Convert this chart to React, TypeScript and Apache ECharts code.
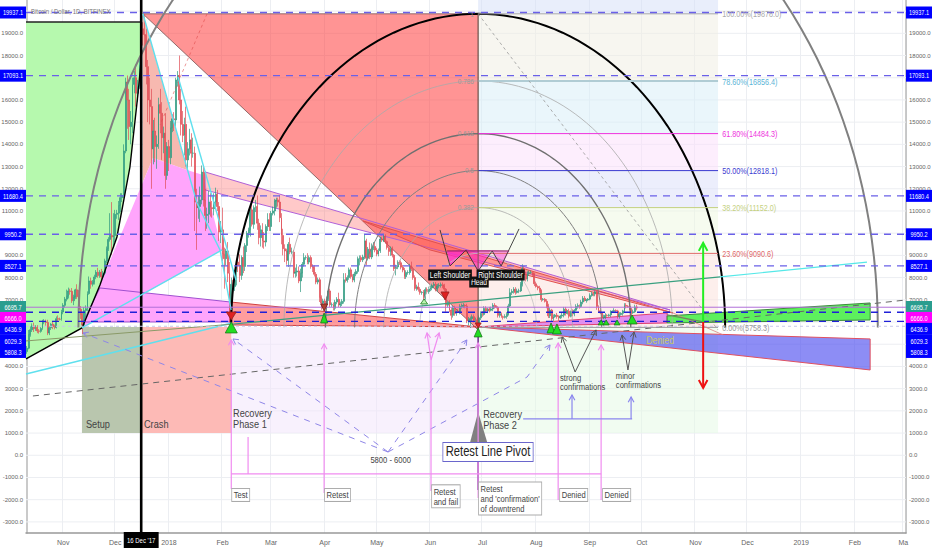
import React, { useEffect, useRef } from "react";
import * as echarts from "echarts";

const FONT = "'Liberation Sans',sans-serif";
const SQUEEZE = 0.8;
const FIRST_DAY = Date.UTC(2017, 9, 11);
const TOTAL_DAYS = 508;
const categories: string[] = [];
for (let i = 0; i < TOTAL_DAYS; i++) categories.push(new Date(FIRST_DAY + i * 86400000).toISOString().slice(0, 10));

const tickLabels: Record<string, string> = {
  "2017-11-01": "Nov", "2017-12-01": "Dec", "2018-01-01": "2018", "2018-02-01": "Feb", "2018-03-01": "Mar",
  "2018-04-01": "Apr", "2018-05-01": "May", "2018-06-01": "Jun", "2018-07-01": "Jul", "2018-08-01": "Aug",
  "2018-09-01": "Sep", "2018-10-01": "Oct", "2018-11-01": "Nov", "2018-12-01": "Dec", "2019-01-01": "2019",
  "2019-02-01": "Feb", "2019-03-01": "Ma",
};
const gridPrices = [-3000, -2000, -1000, 0, 1000, 2000, 3000, 4000, 5000, 6000, 7000, 8000, 9000, 10000, 11000, 12000, 13000, 14000, 15000, 16000, 17000, 18000, 19000, 20000];

// daily closes, 11 Oct 2017 onward
const closes = [
  4820, 5440, 5650, 5820, 5700, 5760, 5600, 5580, 5710, 6000, 6010, 5980, 5510, 5740, 5900, 5780, 5760, 6150, 6130, 6120, 6450,
  6750, 7030, 7160, 7400, 7380, 6960, 7130, 7450, 7140, 6570, 6340, 5860, 6520, 6600, 7280, 7850, 7700, 7790, 8030, 8240, 8090, 8240, 8030, 8200, 8750, 9300, 9720, 9900, 9830, 9900,
  10850, 10900, 11250, 11600, 11700, 13700, 16800, 16000, 14800, 15000, 16700, 17000, 16300, 16600, 17600, 19200, 18950, 18900, 17500, 16000, 15700, 13800, 14600, 13900, 14000, 15800, 15400, 14300, 14500, 12600, 13900,
  13400, 14750, 15150, 15100, 16900, 17100, 16000, 14900, 14400, 14900, 13300, 13800, 14200, 13600, 13600, 11400, 11150, 11200, 11500, 12750, 11500, 10800, 10850, 11400, 11150, 11100, 11400, 11750, 11200, 10050, 10150,
  9050, 8850, 9200, 8200, 6900, 7700, 7600, 8250, 8700, 8550, 8100, 8900, 8500, 9450, 10000, 10150, 11050, 10400, 11150, 11200, 10450, 9800, 10150, 9650, 9600, 10300, 10600, 10300,
  10900, 11000, 11450, 11500, 11400, 10700, 9900, 9300, 9200, 8780, 9500, 9150, 9150, 8200, 8250, 8300, 7850, 8200, 8600, 8900, 8900, 8700, 8900, 8500, 8450, 8150, 7800, 7900, 7100, 6850, 6950,
  6800, 7050, 7400, 6780, 6780, 6620, 6900, 7020, 6770, 6820, 6930, 7900, 7880, 8000, 8350, 8050, 7890, 8160, 8280, 8850, 8900, 8800, 8930, 9650, 8870, 9280, 8930, 9340, 9400, 9240,
  9060, 9210, 9740, 9700, 9850, 9620, 9360, 9180, 9300, 9010, 8400, 8480, 8680, 8670, 8470, 8340, 8040, 8230, 8230, 8520, 8390, 8000, 7510, 7580, 7470, 7330, 7340, 7100, 7460, 7370, 7490,
  7530, 7640, 7700, 7480, 7620, 7650, 7680, 7620, 7480, 6760, 6880, 6540, 6300, 6630, 6380, 6490, 6450, 6700, 6730, 6750, 6720, 6050, 6130, 6150, 6240, 6080, 6100, 5850, 6190, 6380,
  6340, 6610, 6500, 6580, 6530, 6590, 6750, 6700, 6660, 6300, 6380, 6240, 6210, 6250, 6340, 6720, 7320, 7380, 7470, 7330, 7400, 7400, 7700, 8400, 8170, 7930, 8180, 8220, 8220, 8170, 7720,
  7600, 7530, 7420, 7010, 7030, 6930, 6720, 6280, 6540, 6150, 6240, 6310, 6250, 6190, 6270, 6310, 6580, 6390, 6490, 6260, 6470, 6360, 6530, 6700, 6740, 6700, 6900, 7070, 6970, 6990, 7030,
  7190, 7270, 7260, 7360, 6700, 6510, 6410, 6180, 6230, 6300, 6290, 6320, 6480, 6480, 6520, 6500, 6250, 6340, 6390, 6500, 6750, 6710, 6700, 6580, 6420, 6460, 6680, 6630,
];
const upperWicks = [
  100, 200, 150, 120, 150, 100, 100, 80, 60, 100, 120, 100, 120, 60, 50, 120, 100, 100, 150, 70, 100,
  100, 100, 300, 150, 100, 150, 100, 50, 250, 300, 150, 100, 150, 150, 100, 200, 150, 100, 100, 100, 200, 100, 150, 100, 100, 100, 100, 1000, 1500, 1000,
  200, 150, 200, 200, 100, 300, 200, 300, 500, 500, 300, 300, 600, 300, 300, 200, 300, 900, 300, 300, 1000, 800, 500, 600, 400, 300, 700, 500, 300, 900, 200,
  300, 300, 200, 300, 100, 200, 900, 500, 600, 300, 800, 300, 500, 300, 700, 300, 600, 500, 600, 300, 300, 500, 300, 500, 400, 300, 400, 300, 200, 200, 400,
  1000, 300, 100, 400, 500, 300, 200, 100, 100, 200, 500, 100, 500, 100, 100, 100, 100, 300, 100, 300, 500, 200, 200, 300, 400, 100, 300, 300,
  100, 200, 100, 100, 100, 300, 200, 300, 200, 100, 100, 300, 200, 100, 200, 300, 200, 200, 100, 200, 100, 200, 100, 100, 100, 100, 100, 100, 100, 100, 100,
  100, 100, 100, 100, 100, 100, 100, 100, 300, 100, 100, 300, 300, 100, 100, 100, 100, 100, 100, 100, 100, 100, 100, 300, 100, 100, 300, 200, 200, 200,
  100, 100, 100, 100, 100, 100, 50, 100, 100, 100, 50, 100, 100, 100, 100, 100, 100, 100, 100, 100, 200, 100, 100, 100, 200, 100, 50, 100, 100, 100, 100,
  100, 100, 100, 100, 100, 100, 100, 100, 100, 50, 50, 100, 100, 100, 100, 50, 100, 100, 100, 100, 50, 100, 100, 100, 100, 100, 100, 100, 100, 100,
  100, 100, 100, 50, 100, 100, 100, 100, 50, 50, 100, 50, 50, 100, 100, 100, 200, 100, 100, 100, 100, 100, 100, 200, 100, 100, 100, 100, 100, 50, 50,
  100, 50, 100, 50, 50, 50, 100, 100, 100, 50, 100, 50, 100, 50, 50, 100, 100, 100, 50, 100, 50, 100, 50, 100, 100, 50, 100, 100, 100, 50, 50,
  100, 100, 50, 50, 50, 50, 50, 50, 100, 100, 50, 50, 50, 50, 100, 50, 50, 100, 50, 50, 100, 100, 50, 100, 50, 100, 100, 100,
];
const lowerWicks = [
  100, 50, 100, 100, 150, 100, 100, 100, 60, 60, 100, 150, 100, 100, 100, 100, 90, 50, 100, 50, 60,
  100, 100, 100, 100, 150, 100, 200, 100, 100, 200, 200, 400, 100, 300, 100, 50, 200, 100, 100, 100, 100, 100, 150, 100, 100, 100, 100, 100, 800, 500,
  300, 200, 300, 300, 200, 100, 100, 1300, 600, 800, 500, 400, 600, 400, 100, 200, 500, 500, 800, 1000, 800, 1800, 700, 700, 1000, 200, 900, 1000, 700, 600, 200,
  600, 300, 200, 500, 300, 300, 200, 500, 300, 900, 300, 500, 300, 600, 200, 1300, 1900, 500, 700, 200, 300, 700, 600, 400, 400, 400, 300, 200, 200, 400, 500,
  300, 1350, 300, 400, 900, 700, 300, 200, 600, 300, 300, 200, 300, 200, 300, 200, 300, 100, 200, 200, 300, 300, 400, 300, 300, 200, 200, 200,
  200, 100, 200, 300, 200, 200, 400, 300, 500, 200, 300, 100, 100, 200, 200, 200, 100, 500, 200, 100, 100, 100, 100, 100, 200, 100, 100, 100, 200, 300, 100,
  300, 100, 100, 100, 100, 100, 100, 100, 100, 100, 100, 100, 100, 100, 100, 100, 100, 100, 100, 100, 300, 100, 100, 100, 300, 100, 100, 100, 100, 100,
  100, 100, 100, 100, 100, 100, 100, 200, 200, 100, 100, 300, 100, 100, 100, 100, 100, 100, 100, 100, 100, 100, 100, 100, 100, 100, 100, 100, 100, 100, 100,
  100, 100, 100, 100, 100, 100, 100, 100, 100, 300, 100, 100, 200, 100, 100, 100, 50, 100, 100, 100, 100, 100, 200, 400, 100, 100, 100, 100, 100, 100,
  100, 50, 100, 100, 100, 50, 100, 100, 50, 100, 100, 50, 100, 50, 100, 50, 50, 100, 100, 100, 50, 100, 50, 100, 100, 100, 100, 100, 50, 100, 100,
  50, 100, 100, 100, 50, 50, 100, 100, 100, 100, 100, 50, 100, 150, 50, 100, 100, 100, 50, 100, 50, 100, 100, 50, 100, 100, 50, 100, 50, 100, 50,
  50, 50, 100, 100, 150, 100, 50, 100, 50, 100, 50, 50, 100, 50, 50, 50, 100, 100, 50, 100, 50, 100, 50, 50, 100, 50, 50, 100,
];
const candles = closes.map((c, i) => {
  const o = i === 0 ? c - 150 : closes[i - 1];
  return [o, c, Math.min(o, c) - lowerWicks[i], Math.max(o, c) + upperWicks[i]];
});

// horizontal levels and the tags on the price scales
const dashedLevels = [19937.1, 17093.1, 11680.4, 9950.2, 8527.1];
const strongLevels = [6436.9, 6029.3];
const priceTags = [
  ["19937.1", 19937], ["17093.1", 17093], ["11680.4", 11680], ["9950.2", 9950], ["8527.1", 8527],
];
const stackedTags = [["6695.7", 6677, "#2a9d8f"], ["6666.0", 6185, "#ff00ff"], ["6436.9", 5690, "#0000ff"], ["6029.3", 5150, "#0000ff"], ["5808.3", 4652, "#0000ff"]];

// Fibonacci retracement
const fibLevels = [
  [19878, "100.00%(19878.0)", "#aaaaaa", "rgba(240,238,226,0.5)", 1],
  [16856.4, "78.60%(16856.4)", "#5ab4d6", "rgba(213,237,247,0.5)", 2],
  [14484.3, "61.80%(14484.3)", "#ee33dd", "rgba(251,221,251,0.5)", 1],
  [12818.1, "50.00%(12818.1)", "#3a3ad0", "rgba(217,221,249,0.5)", 1],
  [11152, "38.20%(11152.0)", "#c4d080", "rgba(237,247,223,0.5)", 1],
  [9090.6, "23.60%(9090.6)", "#e06a6a", "rgba(251,223,217,0.5)", 1],
  [5758.3, "0.00%(5758.3)", "#999999", "rgba(227,249,227,0.5)", 1],
] as const;
const fibArcs = [
  [0.236, "#c0c0c0", 0.8], [0.382, "#aaaaaa", 0.8], [0.5, "#808080", 1], [0.618, "#707070", 1.4], [0.786, "#aaaaaa", 0.8], [1, "#000000", 2], [1.618, "#808080", 2],
] as const;
const fibArcNames = [["1", 19878], ["0.786", 16856], ["0.618", 14484], ["0.5", 12818], ["0.382", 11152]] as const;
const arcCentre = [260.5, 5758];
const arcRadius = [142.6, 14120];

type Pt = [number, number];
type Shape = any;
const poly = (pts: Pt[], fill: string, stroke?: string, w = 1, opacity = 1): Shape => ({ k: "poly", pts, fill, stroke, w, opacity });
const line = (pts: Pt[], stroke: string, w = 1, dash?: number[]): Shape => ({ k: "line", pts, stroke, w, dash });
const arrow = (pts: Pt[], stroke: string, w = 1, dash?: number[], head = 6): Shape => ({ k: "arrow", pts, stroke, w, dash, head });
const tri = (d: number, p: number, tw: number, th: number, dir: number, fill: string, stroke = "#1a7a1a"): Shape => ({ k: "tri", d, p, tw, th, dir, fill, stroke });
const text = (d: number, p: number, t: string, o: any = {}): Shape => ({ k: "text", d, p, t, ...o });
const boxed = (d: number, p: number, t: string, fs = 9.5): Shape =>
  text(d, p, t, { size: fs, color: "#444", bg: "#ffffff", border: "#aaaaaa", pad: [1, 2], lh: fs + 0.5 });

const L0 = -0.5, R0 = 507.5, TOP = 20500, BOT = -3500;

const greenEdge: Pt[] = [[66, 17800], [64.2, 16310], [59.5, 12980], [52, 9830], [42.2, 7670], [31.8, 5733]];

const fillShapes: Shape[] = [
  ...gridPrices.map((p) => line([[L0, p], [R0, p]], "#eceef2", 1)),
  poly([[260.5, TOP], [399, TOP], [399, 19878], [260.5, 19878]], "rgba(211,221,247,0.5)"),
  ...fibLevels.slice(0, 6).map((f, i) => poly([[260.5, fibLevels[i][0]], [399, fibLevels[i][0]], [399, fibLevels[i + 1][0]], [260.5, fibLevels[i + 1][0]]], f[3])),
  poly([[260.5, 5758], [399, 5758], [399, 1000], [260.5, 1000]], "rgba(227,249,227,0.5)"),
  poly([[118, 5778], [260.5, 5778], [260.5, 1000], [118, 1000]], "rgba(241,227,251,0.5)"),
  poly([[31.8, 5778], [66, 5778], [66, 1000], [31.8, 1000]], "#b9c6ae"),
  poly([[66, 5778], [118, 5778], [118, 1000], [66, 1000]], "#fdbab6"),
  poly([[L0, 19511], [66, 19511], ...greenEdge, [L0, 4337]], "#b6f9ae"),
  poly([[67, 19878], [92.5, 12847], [72.8, 13387], [67, 12307]], "#f7b9b0"),
  poly([[72.8, 13387], [92.5, 12847], [101.7, 12622], [112.7, 9245], [92.5, 8344], [31.8, 5733]], "#ffa5fc"),
  poly([[42.2, 7534], [117.3, 6903], [118.4, 6003], [32.4, 6003]], "#ffa5fc", "#a050d0", 1),
  poly([[67, 19878], [260.5, 19878], [260.5, 5643]], "rgba(255,60,60,0.55)", "rgba(120,80,80,0.8)", 1),
  poly([[102.9, 12757], [371.3, 6543], [102.9, 11946]], "rgba(255,100,100,0.35)", "#b060d8", 1),
  poly([[194, 10550], [373, 6408], [232.8, 9245]], "rgba(255,70,50,0.3)", "#e05050", 1),
  poly([[117.3, 6903], [260.5, 5778], [117.3, 5868]], "rgba(255,60,60,0.5)", "#d04040", 1),
  poly([[260.5, 5778], [369.6, 6408], [369.6, 5958]], "rgba(210,90,240,0.65)", "#e04070", 1),
  poly([[261.6, 5778], [486.8, 5238], [486.8, 3841]], "rgba(80,80,240,0.65)", "#e05060", 1),
  poly([[369.6, 6273], [486.8, 6858], [486.8, 6093], [369.6, 5958]], "#5df05d", "#3a8a3a", 1),
  poly([[242.6, 9200], [253.5, 9245], [244.3, 8524]], "rgba(255,40,210,0.7)"),
  poly([[253.5, 9245], [268, 9245], [260.5, 8299]], "rgba(255,40,210,0.55)"),
  poly([[268, 9245], [278.4, 9200], [273.8, 8524]], "rgba(255,40,210,0.45)"),
];

const arcShapes: Shape[] = fibArcs.map(([ratio, color, w]) => {
  const pts: Pt[] = [];
  for (let t = 0; t <= 180; t += 2) {
    const a = (t * Math.PI) / 180;
    pts.push([arcCentre[0] + arcRadius[0] * ratio * Math.cos(a), arcCentre[1] + arcRadius[1] * ratio * Math.sin(a)]);
  }
  return line(pts, color, w);
});

const PINK = "#f08cf0", LAV = "#8f86e8", BLUE2 = "#8a86ee", DARK = "#555555";
const lineShapes: Shape[] = [
  ...arcShapes,
  line([[66, 17800], ...greenEdge.slice(1), [L0, 4337]], "#000000", 1.4),
  line([[L0, 19511], [66, 19511]], "#222222", 1.5),
  line([[66, TOP], [66, BOT]], "#000000", 2.6),
  line([[104, 19878], [76.9, 14873]], "rgba(220,70,70,0.7)", 0.8, [3, 3]),
  line([[67, 19878], [98.2, 11361], [111.5, 9245], [117.9, 6543]], "#5fe0ee", 1.4),
  line([[87.3, 17035], [120.7, 7894]], "#5fe0ee", 1.4),
  line([[112.7, 9245], [31.8, 5733]], "#5fe0ee", 1.4),
  line([[L0, 3661], [118.4, 5958]], "#5fe0ee", 1.4),
  line([[L0, 5148], [118, 5900]], "#8a9a68", 1),
  line([[118, 5900], [400.2, 8029]], "#3aa080", 1.2),
  line([[400.2, 8029], [485, 8700]], "#55e8e8", 1.2),
  line([[3.5, 2670], [R0, 6993]], "#666666", 1, [6, 5]),
  ...fibLevels.map((f) => line([[260.5, f[0] as number], [399, f[0] as number]], f[2] === "#5ab4d6" ? "#b0ccd4" : (f[2] as string), f[4] as number)),
  line([[260.5, 19878], [399, 5643]], "#999999", 0.8, [3, 3]),
  ...dashedLevels.map((p) => line([[L0, p], [R0, p]], "#6a60e8", 1.4, [7, 6])),
  line([[L0, 6666], [R0, 6666]], "#b070d8", 1),
  line([[L0, 5808.3], [R0, 5808.3]], "#c8c8e8", 1, [3, 3]),
  ...strongLevels.map((p) => line([[L0, p], [R0, p]], "#2020d8", 1.4, [7, 6])),
  line([[373, 6408], [402, 5418]], "#e08080", 0.8),
  line([[369.6, 6318], [390.4, 6003]], "#6a8a5a", 1.2),
  line([[260.5, 19878], [260.5, 5643]], "rgba(110,90,80,0.8)", 1),
  line([[260.5, 5643], [260.5, -1562]], "#6a2a8a", 1.5),
  poly([[260.5, 1950], [255.9, 599], [265.7, 599]], "#808080"),
  // head and shoulders
  line([[238.5, 10145], [244.3, 8524], [253.5, 9245], [260.5, 8299], [268.6, 9200], [273.8, 8524], [284.1, 10190]], "#333333", 0.9),
  line([[242.6, 9200], [278.4, 9200]], "#8a2060", 1),
  // dashed guide arrows
  arrow([[208.5, 148], [32.4, 5508]], LAV, 1, [6, 6]),
  arrow([[208.5, 148], [119, 5238]], LAV, 1, [6, 6]),
  arrow([[208.5, 148], [254, 5193]], LAV, 1, [6, 6]),
  arrow([[208.5, 148], [288.8, 3526], [302, 4967]], LAV, 1, [6, 6]),
  // pink verticals
  arrow([[118, -1517], [118, 5193]], PINK, 1.2),
  arrow([[171.6, -1698], [171.6, 5013]], PINK, 1.2),
  line([[233.3, -1607], [233.3, 4292]], PINK, 1.2),
  arrow([[233.3, 4292], [231, 5508]], PINK, 1.2),
  arrow([[233.3, 4292], [238, 5508]], PINK, 1.2),
  arrow([[260.5, -1923], [260.5, 5058]], PINK, 1.2),
  arrow([[306.7, -2013], [306.7, 5058]], PINK, 1.2),
  arrow([[331.5, -2013], [331.5, 4967]], PINK, 1.2),
  line([[118, -842], [331.5, -842]], PINK, 1.2),
  line([[127.7, 824], [127.7, -842]], PINK, 1.2),
  line([[286.5, 1635], [349.4, 1635]], BLUE2, 1.2),
  arrow([[314.7, 1635], [314.7, 2715]], BLUE2, 1.2),
  arrow([[348.8, 1635], [348.8, 2625]], BLUE2, 1.2),
  arrow([[316.5, 3751], [309, 5328]], DARK, 1),
  arrow([[316.5, 3751], [328.6, 5643]], DARK, 1),
  arrow([[347, 3841], [343.6, 5418]], DARK, 1),
  arrow([[347, 3841], [350.5, 5553]], DARK, 1),
  arrow([[390.4, 6003], [390.4, 9560]], "#22ee22", 2, undefined, 9),
  arrow([[390.4, 6003], [390.4, 3030]], "#ee1111", 2, undefined, 9),
  // triangles
  tri(118, 6453, 10, 8, 1, "#e02020", "#902020"),
  tri(118, 5508, 12, 11, -1, "#22dd22"),
  tri(171.6, 6813, 7, 7, 1, "#b04030", "#702020"),
  tri(171.6, 5958, 7, 10, -1, "#22dd22"),
  tri(241.4, 7354, 8, 8, 1, "#e02020", "#902020"),
  tri(229.3, 6813, 7, 5, -1, "#b9f5b0"),
  tri(260.5, 5958, 6, 5, 1, "#e02020", "#902020"),
  tri(260.5, 5328, 8, 9, -1, "#22dd22"),
  tri(302.6, 5508, 8, 10, -1, "#22dd22"),
  tri(306, 5463, 9, 10, -1, "#22dd22"),
  tri(331.5, 5868, 6, 5, -1, "#22dd22"),
  tri(334.4, 5868, 6, 5, -1, "#22dd22"),
  tri(340.7, 5868, 6, 5, -1, "#22dd22"),
  tri(349.4, 5913, 10, 9, -1, "#22dd22"),
];

const GREY = "#444444";
const labelShapes: Shape[] = [
  text(2.4, 20007, "Bitcoin / Dollar, 1D, BITFINEX", { size: 7.5, color: "#777777" }),
  text(34.1, 1409, "Setup", { size: 11.5, color: GREY }),
  text(67.6, 1409, "Crash", { size: 11.5, color: GREY }),
  text(119, 1657, "Recovery\nPhase 1", { size: 11.5, color: GREY, lh: 11 }),
  text(263.4, 1612, "Recovery\nPhase 2", { size: 11.5, color: GREY, lh: 11 }),
  text(210, -212, "5800 - 6000", { size: 9.5, color: GREY, align: "center" }),
  text(307.8, 3300, "strong\nconfirmations", { size: 9.5, color: GREY, lh: 9.5 }),
  text(340, 3390, "minor\nconfirmations", { size: 9.5, color: GREY, lh: 9.5 }),
  text(357.5, 5193, "Denied", { size: 11, color: "#c8c860" }),
  text(266.2, 148, "Retest Line Pivot", { size: 14, color: "#222222", align: "center", bg: "#ffffff", border: "#6a66cc", pad: [2, 3] }),
  boxed(118.5, -1787, "Test"),
  boxed(172.1, -1787, "Retest"),
  boxed(233.9, -1850, "Retest\nand fail"),
  boxed(261, -1945, "Retest\nand 'confirmation'\nof downtrend"),
  boxed(307.8, -1787, "Denied"),
  boxed(332.6, -1787, "Denied"),
  text(261, 7800, "Head", { size: 8.5, color: "#ffffff", align: "center", bg: "#111111", pad: [1, 2] }),
  text(244.3, 8119, "Left Shoulder", { size: 8.5, color: "#ffffff", align: "center", bg: "#111111", pad: [1, 2] }),
  text(273.5, 8119, "Right Shoulder", { size: 8.5, color: "#ffffff", align: "center", bg: "#111111", pad: [1, 2] }),
  ...fibLevels.map((f) => text(401.4, (f[0] as number) - 40, f[1] as string, { size: 9, color: f[2] })),
  ...fibArcNames.map(([n, p]) => text(258, p, n, { size: 8, color: "#999999", align: "right" })),
  text(66, -3810, "16 Dec '17", { size: 7.5, color: "#ffffff", align: "center", bg: "#000000", pad: [4, 4] }),
  ...priceTags.map(([t, p]) => ({ k: "tag", t, p, bg: "#0000ff" })),
  ...stackedTags.map(([t, p, bg]) => ({ k: "tag", t, p, bg })),
];

function renderShape(s: Shape, api: any): any {
  const c = (p: Pt) => api.coord(p);
  if (s.k === "poly")
    return { type: "polygon", shape: { points: s.pts.map(c) }, style: { fill: s.fill, stroke: s.stroke || "none", lineWidth: s.w, opacity: s.opacity } };
  if (s.k === "line")
    return { type: "polyline", shape: { points: s.pts.map(c) }, style: { fill: "none", stroke: s.stroke, lineWidth: s.w, lineDash: s.dash } };
  if (s.k === "arrow") {
    const pts = s.pts.map(c);
    const a = pts[pts.length - 1], b = pts[pts.length - 2];
    const ang = Math.atan2(b[1] - a[1], b[0] - a[0]);
    const barb = (d: number) => [a[0] + s.head * Math.cos(ang + d), a[1] + s.head * Math.sin(ang + d)];
    return {
      type: "group",
      children: [
        { type: "polyline", shape: { points: pts }, style: { fill: "none", stroke: s.stroke, lineWidth: s.w, lineDash: s.dash } },
        { type: "polyline", shape: { points: [barb(0.5), a, barb(-0.5)] }, style: { fill: "none", stroke: s.stroke, lineWidth: s.w } },
      ],
    };
  }
  if (s.k === "tri") {
    const [x, y] = c([s.d, s.p]);
    return {
      type: "polygon",
      shape: { points: [[x - s.tw / 2, y], [x + s.tw / 2, y], [x, y + s.dir * s.th]] },
      style: { fill: s.fill, stroke: s.stroke, lineWidth: 0.8 },
    };
  }
  if (s.k === "text") {
    const [x, y] = c([s.d, s.p]);
    return {
      type: "text",
      x,
      y,
      scaleX: SQUEEZE,
      style: {
        text: s.t, fill: s.color, fontSize: s.size, fontFamily: FONT, align: s.align || "left", verticalAlign: "middle",
        lineHeight: s.lh, backgroundColor: s.bg, borderColor: s.border, borderWidth: s.border ? 1 : 0, padding: s.pad,
      },
    };
  }
  if (s.k === "tag") {
    const yc = c([L0, s.p])[1];
    const xl = c([L0, s.p])[0];
    const xr = c([R0, s.p])[0];
    const tag = (x: number) => [
      { type: "rect", shape: { x, y: yc - 6, width: 26, height: 12 }, style: { fill: s.bg } },
      { type: "text", x: x + 13, y: yc, scaleX: SQUEEZE, style: { text: s.t, fill: "#ffffff", fontSize: 7, fontFamily: FONT, align: "center", verticalAlign: "middle" } },
    ];
    return { type: "group", children: [...tag(xl - 26), ...tag(xr)] };
  }
  return null;
}

const layer = (shapes: Shape[], z: number) => ({
  type: "custom",
  coordinateSystem: "cartesian2d",
  xAxisIndex: 1,
  yAxisIndex: 0,
  z,
  silent: true,
  clip: false,
  data: shapes.map((_, i) => [i, 0]),
  renderItem: (p: any, api: any) => renderShape(shapes[p.dataIndex], api),
});

export default function App() {
  const ref = useRef<HTMLDivElement>(null);
  useEffect(() => {
    const chart = echarts.init(ref.current!, undefined, { renderer: "svg" });
    const isTick = (i: number) => !!tickLabels[categories[i]];
    const yLabel = {
      fontSize: 6, fontFamily: FONT, color: "#666666", margin: 3,
      formatter: (v: number) => (v % 1000 === 0 ? v.toFixed(1) : ""),
      showMinLabel: false, showMaxLabel: false,
    };
    const yCommon = {
      type: "value", min: BOT, max: TOP, interval: 500, splitLine: { show: false }, axisTick: { show: false },
      axisLine: { show: true, lineStyle: { color: "#b8b8b8", width: 1.5 } }, axisLabel: yLabel,
    };
    chart.setOption({
      animation: false,
      backgroundColor: "#ffffff",
      grid: { left: 26, right: 26, top: 0, bottom: 17, containLabel: false, outerBoundsMode: "none" },
      xAxis: [
        {
          type: "category", data: categories, boundaryGap: true, position: "bottom",
          axisLine: { show: true, onZero: false, lineStyle: { color: "#999999", width: 1.5 } },
          axisTick: { show: false },
          splitLine: { show: true, interval: (i: number) => isTick(i), lineStyle: { color: "#eceef2", width: 1 } },
          axisLabel: { interval: (i: number) => isTick(i), formatter: (v: string) => tickLabels[v] || "", fontSize: 7, fontFamily: FONT, color: "#666666", margin: 6 },
        },
        { type: "value", min: L0, max: R0, show: false },
      ],
      yAxis: [{ ...yCommon, position: "left" }, { ...yCommon, position: "right" }],
      series: [
        layer(fillShapes, 1),
        {
          type: "candlestick", xAxisIndex: 0, yAxisIndex: 0, z: 2, data: candles, barWidth: 1.4, silent: true,
          itemStyle: { color: "#3aa58a", color0: "#e8525a", borderColor: "#2e9a80", borderColor0: "#e04c54", borderWidth: 0.7 },
        },
        layer(lineShapes, 3),
        layer(labelShapes, 4),
      ],
    });
    return () => chart.dispose();
  }, []);
  return <div ref={ref} style={{ position: "fixed", left: 0, top: 0, width: 932, height: 550 }} />;
}
